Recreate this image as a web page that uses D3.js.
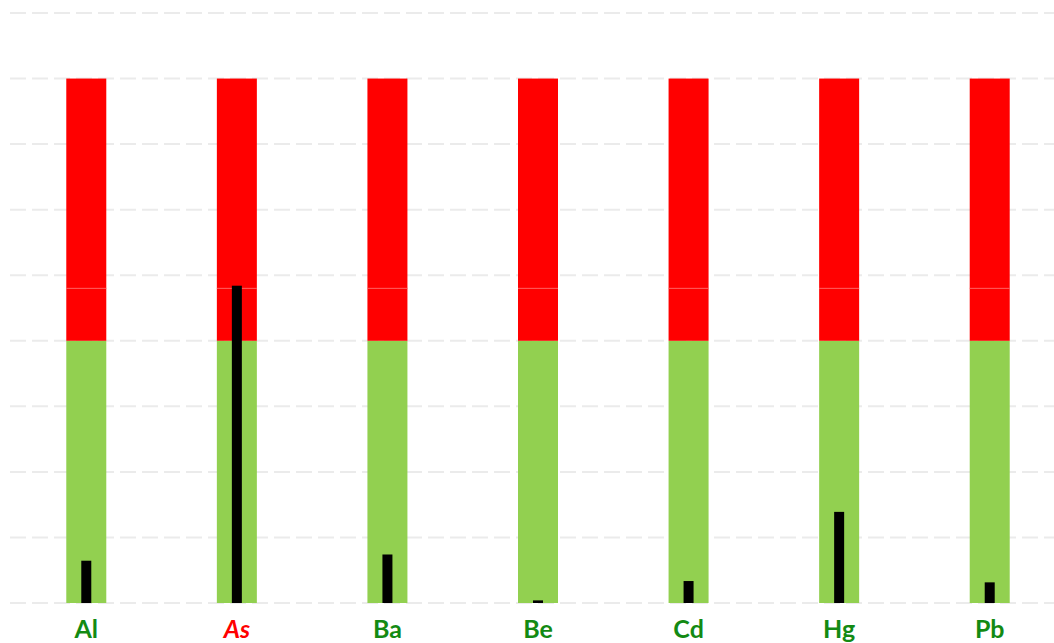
<!DOCTYPE html>
<html>
<head>
<meta charset="utf-8">
<script src="https://cdn.jsdelivr.net/npm/d3@7"></script>
<style>
  body { margin: 0; background: #fff; }
  svg { display: block; }
  .label { font-family: Lato, "Open Sans", sans-serif; font-weight: bold; font-size: 25px; }
</style>
</head>
<body>
<svg id="chart" width="1054" height="643"></svg>
<script>
// elements and measured concentrations
const elements = ["Al", "As", "Ba", "Be", "Cd", "Hg", "Pb"];
const values = [0.645, 4.84, 0.74, 0.04, 0.335, 1.39, 0.315];
// band limits (safe / warning / upper)
const safeLimit = [4, 4, 4, 4, 4, 4, 4];
const midLimit = [4.8, 4.8, 4.8, 4.8, 4.8, 4.8, 4.8];
const maxLimit = [8, 8, 8, 8, 8, 8, 8];
const exceeded = ["As"];
const gridTicks = [0, 1, 2, 3, 4, 5, 6, 7, 8, 9];

const svg = d3.select("#chart");

const x = d3.scaleBand().domain(elements).range([11, 1065]);
const y = d3.scaleLinear().domain([0, 9]).range([603, 13]);

const rows = elements.map((e, i) => ({
  name: e, value: values[i], safe: safeLimit[i], mid: midLimit[i], max: maxLimit[i]
}));

// gridlines
svg.append("g")
  .selectAll("line")
  .data(gridTicks)
  .enter()
  .append("line")
  .attr("x1", 10)
  .attr("x2", 1054)
  .attr("y1", d => y(d))
  .attr("y2", d => y(d))
  .attr("stroke", "#ebebeb")
  .attr("stroke-width", 2)
  .attr("stroke-dasharray", "16,6");

const barW = 40;
const g = svg.append("g")
  .selectAll("g")
  .data(rows)
  .enter()
  .append("g")
  .attr("transform", d => "translate(" + (x(d.name) + x.bandwidth() / 2) + ",0)");

g.append("rect")
  .attr("x", -barW / 2)
  .attr("width", barW)
  .attr("y", d => y(d.safe))
  .attr("height", d => y(0) - y(d.safe))
  .attr("fill", "#92d050");

g.append("rect")
  .attr("x", -barW / 2)
  .attr("width", barW)
  .attr("y", d => y(d.mid))
  .attr("height", d => y(d.safe) - y(d.mid))
  .attr("fill", "#ff0000");

g.append("rect")
  .attr("x", -barW / 2)
  .attr("width", barW)
  .attr("y", d => y(d.max))
  .attr("height", d => y(d.mid) - y(d.max))
  .attr("fill", "#ff0000");

g.append("line")
  .attr("x1", -barW / 2)
  .attr("x2", barW / 2)
  .attr("y1", d => y(d.mid))
  .attr("y2", d => y(d.mid))
  .attr("stroke", "#ff5a5a")
  .attr("stroke-width", 1);

g.append("rect")
  .attr("x", -5)
  .attr("width", 10)
  .attr("y", d => y(d.value))
  .attr("height", d => y(0) - y(d.value))
  .attr("fill", "#000");

g.append("text")
  .attr("class", "label")
  .attr("text-anchor", "middle")
  .attr("y", 638)
  .attr("fill", d => exceeded.includes(d.name) ? "#ff0000" : "#138a13")
  .style("font-style", d => exceeded.includes(d.name) ? "italic" : "normal")
  .text(d => d.name);
</script>
</body>
</html>
